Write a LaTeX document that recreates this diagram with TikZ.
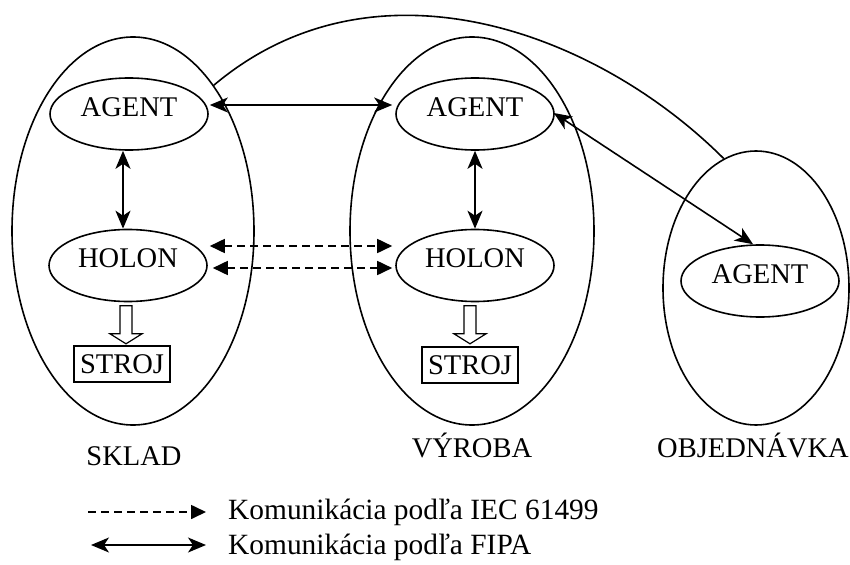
\documentclass[tikz,border=0pt]{standalone}
\usepackage{fontspec}
\setmainfont{Liberation Serif}
\usetikzlibrary{shapes.geometric,arrows.meta,calc}

\tikzset{
  zone/.style={ellipse, draw, line width=1.6pt, inner sep=0pt},
  unit/.style={ellipse, draw, line width=1.6pt, inner sep=0pt,
    minimum width=158pt, minimum height=72pt, text depth=14pt},
  machine/.style={rectangle, draw, line width=1.3pt, inner sep=0pt,
    minimum width=96pt, minimum height=36pt, text depth=0pt},
  fipatip/.tip={Stealth[length=18pt,width=15pt,inset=5pt]},
  iectip/.tip={Triangle[length=15pt,width=14pt]},
  fipa/.style={line width=1.6pt, fipatip-fipatip},
  fipav/.style={line width=2.2pt, fipatip-fipatip},
  iec/.style={line width=1.7pt, dash pattern=on 8pt off 5pt},
  pics/downarrow/.style={code={
    \draw[line width=1.2pt] (-6,0) -- (-6,28) -- (-16,28) -- (0,38)
      -- (16,28) -- (6,28) -- (6,0) -- cycle;}}
}

\begin{document}
\begin{tikzpicture}[x=1pt, y=-1pt, font=\fontsize{28.5}{34}\selectfont]
\useasboundingbox (0,0) rectangle (850,564);

% three zones
\node[zone, minimum width=242pt, minimum height=388pt] (sklad) at (133,231) {};
\node[zone, minimum width=244pt, minimum height=388pt] (vyroba) at (472,231) {};
\node[zone, minimum width=186pt, minimum height=274pt] (obj) at (756,288) {};

% units inside the zones
\node[unit] (sA) at (129,114) {AGENT};
\node[unit] (sH) at (128,265.5) {HOLON};
\node[machine] (sS) at (122,364) {STROJ};

\node[unit] (vA) at (475,114) {AGENT};
\node[unit] (vH) at (475,265.5) {HOLON};
\node[machine] (vS) at (470,365) {STROJ};

\node[unit] (oA) at (760,281) {AGENT};

% zone names
\node[anchor=base] (lsk) at (134,465) {SKLAD};
\node[anchor=base] (lvy) at (472,457) {VÝROBA};
\node[anchor=base] (lob) at (753,457) {OBJEDNÁVKA};

% holon to machine
\pic at ($(sH.south)+(-2,3.5)$) {downarrow};
\pic at ($(vH.south)+(-5,3.5)$) {downarrow};

% FIPA links
\draw[fipa] ($(sA.east)+(1,-9)$) -- ($(vA.west)+(-3,-9)$);
\draw[fipav] ($(sA.south)+(-6,0)$) -- ($(sH.north)+(-5,0)$);
\draw[fipav] (vA.south) -- (vH.north);
\draw[fipa] ($(vA.east)+(-1,-1)$) -- ($(oA.north)+(-7,0)$);

% IEC 61499 links
\draw[iec, iectip-iectip] ($(sH.east)+(2,-19.5)$) -- ($(vH.west)+(-3,-19.5)$);
\draw[iec, iectip-iectip] ($(sH.east)+(5,2.5)$) -- ($(vH.west)+(-3,2.5)$);

% link between the outer zones
\draw[line width=1.6pt] (sklad.61) .. controls (374,-50) and (596,31) .. (obj.104);

% legend
\coordinate (d1) at (88,512);
\coordinate (d2) at (206,512);
\coordinate (f1) at (91,545);
\coordinate (f2) at (206,545);
\draw[iec, -iectip] (d1) -- (d2);
\draw[line width=1.6pt, fipatip-fipatip] (f1) -- (f2);
\begin{scope}[font=\fontsize{29.4}{35}\selectfont]
\node[anchor=base west, inner sep=0pt] (t1) at (228,519) {Komunikácia podľa IEC 61499};
\node[anchor=base west, inner sep=0pt] (t2) at (228,554) {Komunikácia podľa FIPA};
\end{scope}
\end{tikzpicture}
\end{document}
